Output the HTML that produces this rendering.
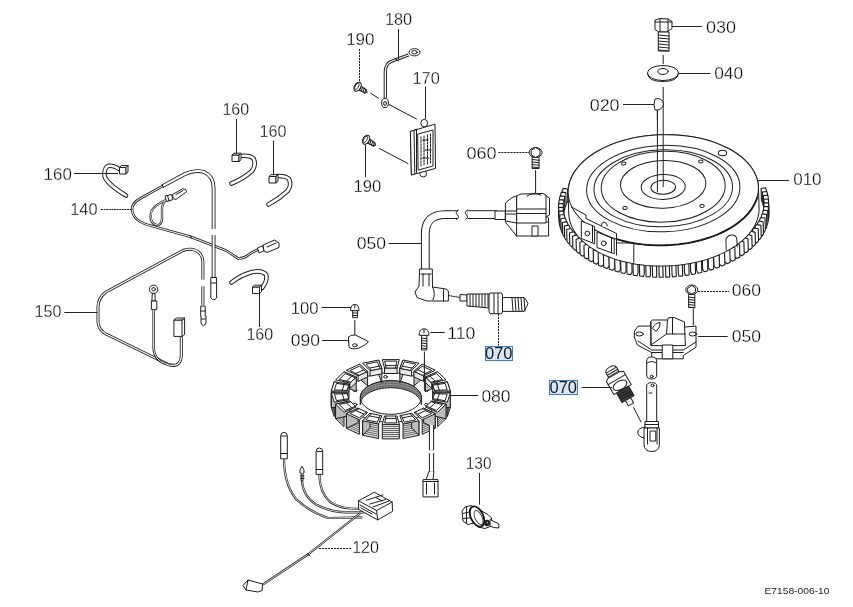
<!DOCTYPE html>
<html><head><meta charset="utf-8">
<style>
html,body{margin:0;padding:0;background:#fff;width:853px;height:607px;overflow:hidden}
svg{display:block}
.t{}
.t{font-family:"Liberation Sans",sans-serif;font-size:16px;fill:#000;stroke:#fff;stroke-width:0.3px}
.l{stroke:#222;stroke-width:1;fill:none}
.d{stroke:#222;stroke-width:1;fill:none;stroke-dasharray:2.2 0.8}
.p{stroke:#1e1e1e;stroke-width:1;stroke-linejoin:round}
.n{stroke:#1e1e1e;stroke-width:1;stroke-linejoin:round;stroke-linecap:round}
</style></head><body>
<svg width="853" height="607" viewBox="0 0 853 607">
<g transform="rotate(-1.6 663.3 190)">
<polygon points="562.2,187.7 563.3,185.6 567.6,186.4 567.6,198.4 566.5,200.4 562.2,199.7" fill="#fff" stroke="#1a1a1a" stroke-width="1.1" stroke-linejoin="round"/>
<polygon points="560.6,191.4 561.4,189.3 565.8,189.9 565.8,201.9 565,204 560.6,203.4" fill="#fff" stroke="#1a1a1a" stroke-width="1.1" stroke-linejoin="round"/>
<polygon points="761.1,191.2 765.5,190.6 766.3,192.8 766.3,204.8 761.9,205.3 761.1,203.2" fill="#fff" stroke="#1a1a1a" stroke-width="1.1" stroke-linejoin="round"/>
<polygon points="559.4,195.2 560,193 564.4,193.5 564.4,205.5 563.8,207.6 559.4,207.2" fill="#fff" stroke="#1a1a1a" stroke-width="1.1" stroke-linejoin="round"/>
<polygon points="762.4,194.8 766.8,194.4 767.3,196.5 767.3,208.5 762.9,208.9 762.4,206.8" fill="#fff" stroke="#1a1a1a" stroke-width="1.1" stroke-linejoin="round"/>
<polygon points="558.6,199 559,196.8 563.5,197.1 563.5,209.1 563.1,211.2 558.6,211" fill="#fff" stroke="#1a1a1a" stroke-width="1.1" stroke-linejoin="round"/>
<polygon points="763.2,198.4 767.7,198.1 768,200.4 768,212.4 763.5,212.5 763.2,210.4" fill="#fff" stroke="#1a1a1a" stroke-width="1.1" stroke-linejoin="round"/>
<polygon points="558.2,202.8 558.4,200.6 562.9,200.8 562.9,212.8 562.7,214.9 558.2,214.8" fill="#fff" stroke="#1a1a1a" stroke-width="1.1" stroke-linejoin="round"/>
<polygon points="763.6,202.1 768.1,202 768.2,204.2 768.2,216.2 763.7,216.2 763.6,214.1" fill="#fff" stroke="#1a1a1a" stroke-width="1.1" stroke-linejoin="round"/>
<polygon points="558.2,204.4 562.7,204.4 562.8,206.5 562.8,218.5 558.3,218.6 558.2,216.4" fill="#fff" stroke="#1a1a1a" stroke-width="1.1" stroke-linejoin="round"/>
<polygon points="763.5,207.8 763.7,205.7 768.2,205.8 768.2,217.8 768,220 763.5,219.8" fill="#fff" stroke="#1a1a1a" stroke-width="1.1" stroke-linejoin="round"/>
<polygon points="558.4,208.2 562.9,208.1 563.2,210.2 563.2,222.2 558.7,222.5 558.4,220.2" fill="#fff" stroke="#1a1a1a" stroke-width="1.1" stroke-linejoin="round"/>
<polygon points="762.9,211.5 763.3,209.4 767.8,209.6 767.8,221.6 767.4,223.8 762.9,223.5" fill="#fff" stroke="#1a1a1a" stroke-width="1.1" stroke-linejoin="round"/>
<polygon points="559.1,212.1 563.5,211.7 564,213.8 564,225.8 559.6,226.2 559.1,224.1" fill="#fff" stroke="#1a1a1a" stroke-width="1.1" stroke-linejoin="round"/>
<polygon points="762,215.1 762.6,213 767,213.4 767,225.4 766.4,227.6 762,227.1" fill="#fff" stroke="#1a1a1a" stroke-width="1.1" stroke-linejoin="round"/>
<polygon points="560.1,215.8 564.5,215.3 565.3,217.4 565.3,229.4 560.9,230 560.1,227.8" fill="#fff" stroke="#1a1a1a" stroke-width="1.1" stroke-linejoin="round"/>
<polygon points="760.6,218.7 761.4,216.6 765.8,217.2 765.8,229.2 765,231.3 760.6,230.7" fill="#fff" stroke="#1a1a1a" stroke-width="1.1" stroke-linejoin="round"/>
<polygon points="561.6,219.6 565.9,218.9 566.9,221 566.9,233 562.6,233.7 561.6,231.6" fill="#fff" stroke="#1a1a1a" stroke-width="1.1" stroke-linejoin="round"/>
<polygon points="758.8,222.2 759.9,220.2 764.2,220.9 764.2,232.9 763.1,235 758.8,234.2" fill="#fff" stroke="#1a1a1a" stroke-width="1.1" stroke-linejoin="round"/>
<polygon points="563.4,223.2 567.7,222.4 568.9,224.4 568.9,236.4 564.7,237.3 563.4,235.2" fill="#fff" stroke="#1a1a1a" stroke-width="1.1" stroke-linejoin="round"/>
<polygon points="756.7,225.7 758,223.7 762.2,224.5 762.2,236.5 760.9,238.6 756.7,237.7" fill="#fff" stroke="#1a1a1a" stroke-width="1.1" stroke-linejoin="round"/>
<polygon points="565.6,226.8 569.8,225.9 571.2,227.8 571.2,239.8 567.1,240.9 565.6,238.8" fill="#fff" stroke="#1a1a1a" stroke-width="1.1" stroke-linejoin="round"/>
<polygon points="754.2,229 755.7,227.1 759.9,228.1 759.9,240.1 758.3,242.1 754.2,241" fill="#fff" stroke="#1a1a1a" stroke-width="1.1" stroke-linejoin="round"/>
<polygon points="568.3,230.3 572.3,229.2 574,231.1 574,243.1 570,244.3 568.3,242.3" fill="#fff" stroke="#1a1a1a" stroke-width="1.1" stroke-linejoin="round"/>
<polygon points="751.4,232.3 753.1,230.4 757.1,231.6 757.1,243.6 755.3,245.5 751.4,244.3" fill="#fff" stroke="#1a1a1a" stroke-width="1.1" stroke-linejoin="round"/>
<polygon points="571.3,233.7 575.2,232.5 577.1,234.3 577.1,246.3 573.2,247.7 571.3,245.7" fill="#fff" stroke="#1a1a1a" stroke-width="1.1" stroke-linejoin="round"/>
<polygon points="748.2,235.4 750.1,233.6 753.9,234.9 753.9,246.9 752,248.8 748.2,247.4" fill="#fff" stroke="#1a1a1a" stroke-width="1.1" stroke-linejoin="round"/>
<polygon points="574.7,237 578.5,235.6 580.5,237.4 580.5,249.4 576.8,250.9 574.7,249" fill="#fff" stroke="#1a1a1a" stroke-width="1.1" stroke-linejoin="round"/>
<polygon points="744.6,238.5 746.7,236.7 750.5,238.2 750.5,250.2 748.3,252 744.6,250.5" fill="#fff" stroke="#1a1a1a" stroke-width="1.1" stroke-linejoin="round"/>
<polygon points="578.4,240.2 582,238.7 584.2,240.3 584.2,252.3 580.7,254 578.4,252.2" fill="#fff" stroke="#1a1a1a" stroke-width="1.1" stroke-linejoin="round"/>
<polygon points="740.8,241.4 743,239.7 746.6,241.3 746.6,253.3 744.2,255 740.8,253.4" fill="#fff" stroke="#1a1a1a" stroke-width="1.1" stroke-linejoin="round"/>
<polygon points="582.4,243.2 585.9,241.5 588.3,243.2 588.3,255.2 584.9,256.9 582.4,255.2" fill="#fff" stroke="#1a1a1a" stroke-width="1.1" stroke-linejoin="round"/>
<polygon points="736.6,244.1 739,242.5 742.4,244.3 742.4,256.3 739.9,257.9 736.6,256.1" fill="#fff" stroke="#1a1a1a" stroke-width="1.1" stroke-linejoin="round"/>
<polygon points="586.8,246.1 590.1,244.3 592.6,245.8 592.6,257.8 589.5,259.7 586.8,258.1" fill="#fff" stroke="#1a1a1a" stroke-width="1.1" stroke-linejoin="round"/>
<polygon points="732.1,246.7 734.8,245.2 738,247.1 738,259.1 735.2,260.6 732.1,258.7" fill="#fff" stroke="#1a1a1a" stroke-width="1.1" stroke-linejoin="round"/>
<polygon points="591.5,248.8 594.5,246.9 597.3,248.3 597.3,260.3 594.3,262.3 591.5,260.8" fill="#fff" stroke="#1a1a1a" stroke-width="1.1" stroke-linejoin="round"/>
<polygon points="727.4,249.1 730.2,247.8 733.2,249.7 733.2,261.7 730.3,263.1 727.4,261.1" fill="#fff" stroke="#1a1a1a" stroke-width="1.1" stroke-linejoin="round"/>
<polygon points="596.4,251.3 599.3,249.3 602.2,250.6 602.2,262.6 599.4,264.7 596.4,263.3" fill="#fff" stroke="#1a1a1a" stroke-width="1.1" stroke-linejoin="round"/>
<polygon points="722.4,251.4 725.4,250.1 728.1,252.2 728.1,264.2 725.1,265.5 722.4,263.4" fill="#fff" stroke="#1a1a1a" stroke-width="1.1" stroke-linejoin="round"/>
<polygon points="601.6,253.6 604.3,251.5 607.3,252.7 607.3,264.7 604.8,266.9 601.6,265.6" fill="#fff" stroke="#1a1a1a" stroke-width="1.1" stroke-linejoin="round"/>
<polygon points="717.2,253.5 720.3,252.3 722.8,254.4 722.8,266.4 719.6,267.7 717.2,265.5" fill="#fff" stroke="#1a1a1a" stroke-width="1.1" stroke-linejoin="round"/>
<polygon points="607.1,255.8 609.5,253.6 612.6,254.7 612.6,266.7 610.4,268.9 607.1,267.8" fill="#fff" stroke="#1a1a1a" stroke-width="1.1" stroke-linejoin="round"/>
<polygon points="711.8,255.3 715,254.3 717.3,256.5 717.3,268.5 714,269.6 711.8,267.3" fill="#fff" stroke="#1a1a1a" stroke-width="1.1" stroke-linejoin="round"/>
<polygon points="612.8,257.7 615,255.4 618.2,256.4 618.2,268.4 616.2,270.8 612.8,269.7" fill="#fff" stroke="#1a1a1a" stroke-width="1.1" stroke-linejoin="round"/>
<polygon points="706.2,257 709.5,256.1 711.5,258.4 711.5,270.4 708.1,271.4 706.2,269" fill="#fff" stroke="#1a1a1a" stroke-width="1.1" stroke-linejoin="round"/>
<polygon points="618.7,259.5 620.6,257.1 623.9,258 623.9,270 622.2,272.4 618.7,271.5" fill="#fff" stroke="#1a1a1a" stroke-width="1.1" stroke-linejoin="round"/>
<polygon points="700.4,258.5 703.8,257.6 705.6,260 705.6,272 702,272.9 700.4,270.5" fill="#fff" stroke="#1a1a1a" stroke-width="1.1" stroke-linejoin="round"/>
<polygon points="624.7,261 626.4,258.5 629.8,259.3 629.8,271.3 628.3,273.7 624.7,273" fill="#fff" stroke="#1a1a1a" stroke-width="1.1" stroke-linejoin="round"/>
<polygon points="694.4,259.7 697.9,259 699.5,261.5 699.5,273.5 695.8,274.2 694.4,271.7" fill="#fff" stroke="#1a1a1a" stroke-width="1.1" stroke-linejoin="round"/>
<polygon points="630.9,262.3 632.3,259.8 635.8,260.4 635.8,272.4 634.6,274.9 630.9,274.3" fill="#fff" stroke="#1a1a1a" stroke-width="1.1" stroke-linejoin="round"/>
<polygon points="688.4,260.7 691.9,260.2 693.2,262.7 693.2,274.7 689.5,275.3 688.4,272.7" fill="#fff" stroke="#1a1a1a" stroke-width="1.1" stroke-linejoin="round"/>
<polygon points="637.3,263.3 638.4,260.8 642,261.3 642,273.3 641,275.8 637.3,275.3" fill="#fff" stroke="#1a1a1a" stroke-width="1.1" stroke-linejoin="round"/>
<polygon points="682.2,261.5 685.8,261.1 686.8,263.6 686.8,275.6 683.1,276.1 682.2,273.5" fill="#fff" stroke="#1a1a1a" stroke-width="1.1" stroke-linejoin="round"/>
<polygon points="643.7,264.1 644.6,261.6 648.2,261.9 648.2,273.9 647.5,276.5 643.7,276.1" fill="#fff" stroke="#1a1a1a" stroke-width="1.1" stroke-linejoin="round"/>
<polygon points="676,262.1 679.6,261.8 680.3,264.4 680.3,276.4 676.6,276.7 676,274.1" fill="#fff" stroke="#1a1a1a" stroke-width="1.1" stroke-linejoin="round"/>
<polygon points="650.2,264.7 650.8,262.1 654.4,262.4 654.4,274.4 654,277 650.2,276.7" fill="#fff" stroke="#1a1a1a" stroke-width="1.1" stroke-linejoin="round"/>
<polygon points="669.7,262.5 673.4,262.3 673.8,264.9 673.8,276.9 670,277.1 669.7,274.5" fill="#fff" stroke="#1a1a1a" stroke-width="1.1" stroke-linejoin="round"/>
<polygon points="656.8,265.1 657.1,262.5 660.7,262.6 660.7,274.6 660.6,277.2 656.8,277.1" fill="#fff" stroke="#1a1a1a" stroke-width="1.1" stroke-linejoin="round"/>
<polygon points="663.4,262.6 667.1,262.5 667.2,265.2 667.2,277.2 663.4,277.2 663.4,274.6" fill="#fff" stroke="#1a1a1a" stroke-width="1.1" stroke-linejoin="round"/>
<polygon class="p" points="568.1,190 568.2,187.1 568.6,184.2 569.3,181.3 570.2,178.5 571.3,175.7 572.8,172.9 574.4,170.2 576.3,167.5 578.5,164.9 580.9,162.3 583.5,159.9 586.3,157.5 589.3,155.2 592.6,153 596,150.9 599.6,148.9 603.4,147 607.3,145.3 611.5,143.6 615.7,142.1 620.1,140.7 624.6,139.5 629.2,138.4 633.9,137.4 638.7,136.6 643.5,135.9 648.4,135.4 653.3,135 658.3,134.8 663.3,134.7 668.3,134.8 673.3,135 678.2,135.4 683.1,135.9 687.9,136.6 692.7,137.4 697.4,138.4 702,139.5 706.5,140.7 710.9,142.1 715.1,143.6 719.3,145.3 723.2,147 727,148.9 730.6,150.9 734,153 737.3,155.2 740.3,157.5 743.1,159.9 745.7,162.3 748.1,164.9 750.3,167.5 752.2,170.2 753.8,172.9 755.3,175.7 756.4,178.5 757.3,181.3 758,184.2 758.4,187.1 758.5,190 758.5,210.8 758.4,213.7 758,216.6 757.3,219.5 756.4,222.3 755.3,225.1 753.8,227.9 752.2,230.6 750.3,233.3 748.1,235.9 745.7,238.5 743.1,240.9 740.3,243.3 737.3,245.6 734,247.8 730.6,249.9 727,251.9 723.2,253.8 719.3,255.5 715.1,257.2 710.9,258.7 706.5,260.1 702,261.3 697.4,262.4 692.7,263.4 687.9,264.2 683.1,264.9 678.2,265.4 673.3,265.8 668.3,266 663.3,266.1 658.3,266 653.3,265.8 648.4,265.4 643.5,264.9 638.7,264.2 633.9,263.4 629.2,262.4 624.6,261.3 620.1,260.1 615.7,258.7 611.5,257.2 607.3,255.5 603.4,253.8 599.6,251.9 596,249.9 592.6,247.8 589.3,245.6 586.3,243.3 583.5,240.9 580.9,238.5 578.5,235.9 576.3,233.3 574.4,230.6 572.8,227.9 571.3,225.1 570.2,222.3 569.3,219.5 568.6,216.6 568.2,213.7 568.1,210.8"  fill="#fff"/>
<ellipse class="p" cx="663.3" cy="190" rx="95.2" ry="55.3" stroke-width="1.1" fill="#fff"/>
<path d="M757.1,199.6 756.2,202.2 755,204.8 753.7,207.3 752.2,209.8 750.4,212.3 748.5,214.7 746.4,217 744,219.3 741.5,221.5 738.8,223.7 736,225.7 732.9,227.7 729.7,229.6 726.4,231.4 722.9,233.1 719.3,234.7 715.5,236.2 711.6,237.6 707.6,238.9 703.5,240.1 699.3,241.2 695.1,242.1 690.7,243 686.3,243.7 681.9,244.2 677.4,244.7 672.8,245 668.3,245.2 663.7,245.3 659.1,245.2 654.6,245.1 650.1,244.8 645.5,244.3 641.1,243.8 636.7,243.1 632.3,242.3 628,241.4 623.8,240.3 619.7,239.2 615.7,237.9" fill="none" stroke="#1a1a1a" stroke-width="1.8"/>
<ellipse class="n" cx="663.3" cy="188.6" rx="76.7" ry="43.2"  fill="none"/>
<ellipse class="n" cx="663.3" cy="188.3" rx="69.3" ry="38.5"  fill="none"/>
<ellipse class="n" cx="663.3" cy="186.7" rx="62" ry="35.4" stroke-width="1.9" fill="none"/>
<ellipse class="n" cx="663.3" cy="184.3" rx="42.7" ry="23.9" stroke-width="1.1" fill="none"/>
<ellipse class="n" cx="663.3" cy="186.9" rx="22" ry="12.5" stroke-width="1.4" fill="none"/>
<ellipse class="n" cx="663.3" cy="187.3" rx="12.3" ry="7" stroke-width="1.1" fill="none"/>
<ellipse class="n" cx="624.5" cy="162.5" rx="2.2" ry="1.5" stroke-width="1.2" fill="none"/>
<ellipse class="n" cx="701.6" cy="162.5" rx="2.2" ry="1.5" stroke-width="1.2" fill="none"/>
<ellipse class="n" cx="624.5" cy="207" rx="2.2" ry="1.5" stroke-width="1.2" fill="none"/>
<ellipse class="n" cx="701.6" cy="207" rx="2.2" ry="1.5" stroke-width="1.2" fill="none"/>
<ellipse class="n" cx="723.5" cy="154.6" rx="4.2" ry="2.8"  fill="none"/>
<path class="n" d="M724.5,252 V241 Q727,236.5 731,237 Q735.5,237.5 735.5,242 V249"  fill="none"/>
</g>
<path class="n" d="M571.5,207 L586,215 V218.5 L616.5,233.5 V243 L633.8,243 V262.3" stroke-width="0.9" fill="none"/>
<polygon class="p" points="581.3,221 594.6,226.5 594.6,243.8 581.3,238.5" stroke-width="1.6" fill="#fff"/>
<polygon class="p" points="597,232 614.2,239 614.2,253.7 597,247.5" stroke-width="1.6" fill="#fff"/>
<path class="n" d="M592.5,226 V242 M611.5,238.5 V252.5 M616.5,234 V255" stroke-width="0.9" fill="none"/>
<ellipse class="n" cx="587.3" cy="233.5" rx="2.4" ry="2.4" stroke-width="1.6" fill="none"/>
<ellipse class="n" cx="603.8" cy="243.3" rx="2.4" ry="2.4" stroke-width="1.6" fill="none"/>
<path class="p" d="M601.5,226.5 Q601,222.5 604,222 Q607.5,222.5 607.3,226.5" stroke-width="0.9" fill="#fff"/>
<path class="l" d="M663.2,55 V64 M663.2,87 V187 M657.4,110 V192"  fill="none"/>
<path class="p" d="M655,20 L660,18.5 L668,19 L672,21.5 V28.5 L667,32 L659,32 L655,29.5 Z"  fill="#fff"/>
<path class="n" d="M660,18.5 V31.5 M668,19 V32 M655,22 L672,22" stroke-width="0.8" fill="none"/>
<polygon class="p" points="658.3,32 669,32 669,51 658.3,51"  fill="#fff"/>
<path class="n" d="M658.3,35 L669,36" stroke-width="0.8" fill="none"/>
<path class="n" d="M658.3,38 L669,39" stroke-width="0.8" fill="none"/>
<path class="n" d="M658.3,41 L669,42" stroke-width="0.8" fill="none"/>
<path class="n" d="M658.3,44 L669,45" stroke-width="0.8" fill="none"/>
<path class="n" d="M658.3,47 L669,48" stroke-width="0.8" fill="none"/>
<path class="n" d="M658.3,50 L669,51" stroke-width="0.8" fill="none"/>
<ellipse class="p" cx="663" cy="73" rx="15.5" ry="7.5" stroke-width="1.2" fill="#fff"/>
<path class="n" d="M647.6,74 Q648,81.5 663,81.5 Q678,81.5 678.3,74"  fill="none"/>
<ellipse class="n" cx="663" cy="71.5" rx="5.3" ry="3"  fill="none"/>
<path class="p" d="M655,99 Q662,97 663.5,104 Q662,111 655,110 Q653,104.5 655,99 Z"  fill="#fff"/>
<path class="n" d="M657.4,110 V120"  fill="none"/>
<polygon class="p" points="435.8,397.5 435.6,400.1 434.8,402.6 433.6,405.1 431.9,407.6 429.8,409.9 427.2,412 424.2,414.1 420.9,415.9 417.3,417.5 413.3,418.9 409.1,420.1 404.7,421 400.2,421.7 395.5,422.1 390.8,422.2 386.1,422.1 381.4,421.7 376.9,421 372.5,420.1 368.3,418.9 364.3,417.5 360.7,415.9 357.4,414.1 354.4,412 351.8,409.9 349.7,407.6 348,405.1 346.8,402.6 346,400.1 345.8,397.5 346,394.9 346.8,392.4 348,389.9 349.7,387.4 351.8,385.1 354.4,383 357.4,380.9 360.7,379.1 364.3,377.5 368.3,376.1 372.5,374.9 376.9,374 381.4,373.3 386.1,372.9 390.8,372.8 395.5,372.9 400.2,373.3 404.7,374 409.1,374.9 413.3,376.1 417.3,377.5 420.9,379.1 424.2,380.9 427.2,383 429.8,385.1 431.9,387.4 433.6,389.9 434.8,392.4 435.6,394.9 435.8,397.5"  fill="#fff"/>
<polygon class="p" points="421.3,397.5 421.1,399.3 420.6,401 419.8,402.7 418.7,404.3 417.2,405.9 415.5,407.4 413.5,408.7 411.2,410 408.7,411.1 406.1,412 403.2,412.8 400.2,413.5 397.1,413.9 394,414.2 390.8,414.3 387.6,414.2 384.5,413.9 381.4,413.5 378.4,412.8 375.6,412 372.9,411.1 370.4,410 368.1,408.7 366.1,407.4 364.4,405.9 362.9,404.3 361.8,402.7 361,401 360.5,399.3 360.3,397.5 360.5,395.7 361,394 361.8,392.3 362.9,390.7 364.4,389.1 366.1,387.6 368.1,386.3 370.4,385 372.9,383.9 375.6,383 378.4,382.2 381.4,381.5 384.5,381.1 387.6,380.8 390.8,380.7 394,380.8 397.1,381.1 400.2,381.5 403.2,382.2 406.1,383 408.7,383.9 411.2,385 413.5,386.3 415.5,387.6 417.2,389.1 418.7,390.7 419.8,392.3 420.6,394 421.1,395.7 421.3,397.5" fill="#fff"/>
<polygon class="n" points="360.3,397.5 360.5,395.7 361,394 361.8,392.3 362.9,390.7 364.4,389.1 366.1,387.6 368.1,386.3 370.4,385 372.9,383.9 375.6,383 378.4,382.2 381.4,381.5 384.5,381.1 387.6,380.8 390.8,380.7 394,380.8 397.1,381.1 400.2,381.5 403.2,382.2 406.1,383 408.7,383.9 411.2,385 413.5,386.3 415.5,387.6 417.2,389.1 418.7,390.7 419.8,392.3 420.6,394 421.1,395.7 421.3,397.5 421.3,404.5 421.1,402.7 420.6,401 419.8,399.3 418.7,397.7 417.2,396.1 415.5,394.6 413.5,393.3 411.2,392 408.7,390.9 406.1,390 403.2,389.2 400.2,388.5 397.1,388.1 394,387.8 390.8,387.7 387.6,387.8 384.5,388.1 381.4,388.5 378.4,389.2 375.6,390 372.9,390.9 370.4,392 368.1,393.3 366.1,394.6 364.4,396.1 362.9,397.7 361.8,399.3 361,401 360.5,402.7 360.3,404.5" fill="#8c8c8c" stroke="#222"/>
<path d="M361.5,395.4 362.5,393.7 363.9,392.1 365.5,390.6 367.4,389.2 369.6,387.9 372,386.8 374.6,385.8 377.4,384.9 380.4,384.2 383.4,383.7 386.6,383.4 389.7,383.2 392.9,383.3 396.1,383.5 399.2,383.9 402.2,384.4 405.1,385.2 407.9,386.1 410.4,387.1 412.7,388.3 414.8,389.7 416.7,391.1 418.2,392.6 419.5,394.3" fill="none" stroke="#444" stroke-width="0.8" stroke-dasharray="2 1"/>
<path d="M361.5,397.9 362.5,396.2 363.9,394.6 365.5,393.1 367.4,391.7 369.6,390.4 372,389.3 374.6,388.3 377.4,387.4 380.4,386.7 383.4,386.2 386.6,385.9 389.7,385.7 392.9,385.8 396.1,386 399.2,386.4 402.2,386.9 405.1,387.7 407.9,388.6 410.4,389.6 412.7,390.8 414.8,392.2 416.7,393.6 418.2,395.1 419.5,396.8" fill="none" stroke="#444" stroke-width="0.8" stroke-dasharray="2 1"/>
<ellipse class="n" cx="355.1" cy="390.4" rx="1.8" ry="1.3" stroke-width="1.1" fill="none"/>
<ellipse class="n" cx="355.1" cy="404.6" rx="1.8" ry="1.3" stroke-width="1.1" fill="none"/>
<ellipse class="n" cx="426.5" cy="390.4" rx="1.8" ry="1.3" stroke-width="1.1" fill="none"/>
<ellipse class="n" cx="426.5" cy="404.6" rx="1.8" ry="1.3" stroke-width="1.1" fill="none"/>
<ellipse class="n" cx="385.5" cy="376.8" rx="1.8" ry="1.3" stroke-width="1.1" fill="none"/>
<polygon class="p" points="384.5,368 397.1,368 397.1,373.5 384.5,373.5" fill="#e8e8e8"/>
<polygon class="p" points="384.5,368 382.3,359.6 399.3,359.6 397.1,368"  fill="#fff"/>
<polygon class="n" points="385.5,365.2 384.7,361.1 396.9,361.1 396.1,365.2" stroke-width="0.8" fill="none"/>
<path class="n" d="M385.5,365.2 L386,367.9 M395.6,367.9 L396.1,365.2" stroke-width="0.8" fill="none"/>
<polygon class="p" points="381.8,368.3 378.6,360 378.6,374.5 381.8,382.8" fill="#bdbdbd"/>
<polygon class="p" points="370,370.7 381.8,368.3 381.8,373.8 370,376.2" fill="#e8e8e8"/>
<polygon class="p" points="370,370.7 362.7,363.2 378.6,360 381.8,368.3"  fill="#fff"/>
<polygon class="n" points="369.2,367.8 365.9,364.1 377.3,361.8 379.1,365.8" stroke-width="0.8" fill="none"/>
<path class="n" d="M369.2,367.8 L371.4,370.3 M380.3,368.5 L379.1,365.8" stroke-width="0.8" fill="none"/>
<polygon class="p" points="399.8,368.3 403,360 403,374.5 399.8,382.8" fill="#bdbdbd"/>
<polygon class="p" points="399.8,368.3 411.6,370.7 411.6,376.2 399.8,373.8" fill="#e8e8e8"/>
<polygon class="p" points="399.8,368.3 403,360 418.9,363.2 411.6,370.7"  fill="#fff"/>
<polygon class="n" points="402.5,365.8 404.3,361.8 415.7,364.1 412.4,367.8" stroke-width="0.8" fill="none"/>
<path class="n" d="M402.5,365.8 L401.3,368.5 M410.2,370.3 L412.4,367.8" stroke-width="0.8" fill="none"/>
<polygon class="p" points="414,371.4 422.2,364.2 422.2,378.7 414,385.9" fill="#bdbdbd"/>
<polygon class="p" points="414,371.4 423.6,375.9 423.6,381.4 414,376.9" fill="#e8e8e8"/>
<polygon class="p" points="414,371.4 422.2,364.2 435.2,370.2 423.6,375.9"  fill="#fff"/>
<polygon class="n" points="418.1,369.6 422.2,366.2 431.6,370.5 426.2,373.3" stroke-width="0.8" fill="none"/>
<path class="n" d="M418.1,369.6 L415.3,371.9 M422.6,375.3 L426.2,373.3" stroke-width="0.8" fill="none"/>
<polygon class="p" points="367.6,371.4 359.4,364.2 359.4,378.7 367.6,385.9" fill="#bdbdbd"/>
<polygon class="p" points="358,375.9 367.6,371.4 367.6,376.9 358,381.4" fill="#e8e8e8"/>
<polygon class="p" points="358,375.9 346.4,370.2 359.4,364.2 367.6,371.4"  fill="#fff"/>
<polygon class="n" points="355.4,373.3 350,370.5 359.4,366.2 363.5,369.6" stroke-width="0.8" fill="none"/>
<path class="n" d="M355.4,373.3 L359,375.3 M366.3,371.9 L363.5,369.6" stroke-width="0.8" fill="none"/>
<polygon class="p" points="425.4,377 437.6,371.8 437.6,386.3 425.4,391.5" fill="#bdbdbd"/>
<polygon class="p" points="425.4,377 431.7,383 431.7,388.5 425.4,382.5" fill="#e8e8e8"/>
<polygon class="p" points="425.4,377 437.6,371.8 446,379.8 431.7,383"  fill="#fff"/>
<polygon class="n" points="430.3,376.1 436.4,373.6 442.5,379.5 435.6,381.1" stroke-width="0.8" fill="none"/>
<path class="n" d="M430.3,376.1 L426.3,377.7 M431.1,382.2 L435.6,381.1" stroke-width="0.8" fill="none"/>
<polygon class="p" points="356.2,377 344,371.8 344,386.3 356.2,391.5" fill="#bdbdbd"/>
<polygon class="p" points="349.9,383 356.2,377 356.2,382.5 349.9,388.5" fill="#e8e8e8"/>
<polygon class="p" points="349.9,383 335.6,379.8 344,371.8 356.2,377"  fill="#fff"/>
<polygon class="n" points="346,381.1 339.1,379.5 345.2,373.6 351.3,376.1" stroke-width="0.8" fill="none"/>
<path class="n" d="M346,381.1 L350.5,382.2 M355.3,377.7 L351.3,376.1" stroke-width="0.8" fill="none"/>
<polygon class="p" points="331.3,391 334.3,381.8 334.3,396.3 331.3,405.5" fill="#e4e4e4" stroke-width="1.1"/>
<line x1="331.3" y1="393" x2="334.3" y2="383.8" stroke="#444" stroke-width="0.8"/>
<line x1="331.3" y1="395" x2="334.3" y2="385.8" stroke="#444" stroke-width="0.8"/>
<line x1="331.3" y1="397.1" x2="334.3" y2="387.9" stroke="#444" stroke-width="0.8"/>
<line x1="331.3" y1="399.1" x2="334.3" y2="389.9" stroke="#444" stroke-width="0.8"/>
<line x1="331.3" y1="401.1" x2="334.3" y2="391.9" stroke="#444" stroke-width="0.8"/>
<line x1="331.3" y1="403.2" x2="334.3" y2="394" stroke="#444" stroke-width="0.8"/>
<polygon class="p" points="349,384.4 334.3,381.8 334.3,396.3 349,398.9" fill="#bdbdbd"/>
<polygon class="p" points="346.8,391.2 349,384.4 349,389.9 346.8,396.7" fill="#e8e8e8"/>
<polygon class="p" points="346.8,391.2 331.3,391 334.3,381.8 349,384.4"  fill="#fff"/>
<polygon class="n" points="341.9,390.2 334.4,389.9 336.5,383.3 343.7,384.5" stroke-width="0.8" fill="none"/>
<path class="n" d="M341.9,390.2 L346.9,390.4 M348.5,385.2 L343.7,384.5" stroke-width="0.8" fill="none"/>
<polygon class="p" points="447.3,381.8 450.3,391 450.3,405.5 447.3,396.3" fill="#e4e4e4" stroke-width="1.1"/>
<line x1="447.3" y1="383.8" x2="450.3" y2="393" stroke="#444" stroke-width="0.8"/>
<line x1="447.3" y1="385.8" x2="450.3" y2="395" stroke="#444" stroke-width="0.8"/>
<line x1="447.3" y1="387.9" x2="450.3" y2="397.1" stroke="#444" stroke-width="0.8"/>
<line x1="447.3" y1="389.9" x2="450.3" y2="399.1" stroke="#444" stroke-width="0.8"/>
<line x1="447.3" y1="391.9" x2="450.3" y2="401.1" stroke="#444" stroke-width="0.8"/>
<line x1="447.3" y1="394" x2="450.3" y2="403.2" stroke="#444" stroke-width="0.8"/>
<polygon class="p" points="432.6,384.4 447.3,381.8 447.3,396.3 432.6,398.9" fill="#bdbdbd"/>
<polygon class="p" points="432.6,384.4 434.8,391.2 434.8,396.7 432.6,389.9" fill="#e8e8e8"/>
<polygon class="p" points="432.6,384.4 447.3,381.8 450.3,391 434.8,391.2"  fill="#fff"/>
<polygon class="n" points="437.9,384.5 445.1,383.3 447.2,389.9 439.7,390.2" stroke-width="0.8" fill="none"/>
<path class="n" d="M437.9,384.5 L433.1,385.2 M434.7,390.4 L439.7,390.2" stroke-width="0.8" fill="none"/>
<polygon class="p" points="334.3,402.2 331.3,393 331.3,407.5 334.3,416.7" fill="#e4e4e4" stroke-width="1.1"/>
<line x1="334.3" y1="404.3" x2="331.3" y2="395.1" stroke="#444" stroke-width="0.8"/>
<line x1="334.3" y1="406.3" x2="331.3" y2="397.1" stroke="#444" stroke-width="0.8"/>
<line x1="334.3" y1="408.3" x2="331.3" y2="399.1" stroke="#444" stroke-width="0.8"/>
<line x1="334.3" y1="410.3" x2="331.3" y2="401.1" stroke="#444" stroke-width="0.8"/>
<line x1="334.3" y1="412.4" x2="331.3" y2="403.2" stroke="#444" stroke-width="0.8"/>
<line x1="334.3" y1="414.4" x2="331.3" y2="405.2" stroke="#444" stroke-width="0.8"/>
<polygon class="p" points="346.8,392.8 331.3,393 331.3,407.5 346.8,407.3" fill="#bdbdbd"/>
<polygon class="p" points="349,399.6 334.3,402.2 331.3,393 346.8,392.8"  fill="#fff"/>
<polygon class="n" points="343.7,399.5 336.5,400.7 334.4,394.1 341.9,393.8" stroke-width="0.8" fill="none"/>
<path class="n" d="M343.7,399.5 L348.5,398.8 M346.9,393.6 L341.9,393.8" stroke-width="0.8" fill="none"/>
<polygon class="p" points="450.3,393 447.3,402.2 447.3,416.7 450.3,407.5" fill="#e4e4e4" stroke-width="1.1"/>
<line x1="450.3" y1="395.1" x2="447.3" y2="404.3" stroke="#444" stroke-width="0.8"/>
<line x1="450.3" y1="397.1" x2="447.3" y2="406.3" stroke="#444" stroke-width="0.8"/>
<line x1="450.3" y1="399.1" x2="447.3" y2="408.3" stroke="#444" stroke-width="0.8"/>
<line x1="450.3" y1="401.1" x2="447.3" y2="410.3" stroke="#444" stroke-width="0.8"/>
<line x1="450.3" y1="403.2" x2="447.3" y2="412.4" stroke="#444" stroke-width="0.8"/>
<line x1="450.3" y1="405.2" x2="447.3" y2="414.4" stroke="#444" stroke-width="0.8"/>
<polygon class="p" points="434.8,392.8 450.3,393 450.3,407.5 434.8,407.3" fill="#bdbdbd"/>
<polygon class="p" points="434.8,392.8 450.3,393 447.3,402.2 432.6,399.6"  fill="#fff"/>
<polygon class="n" points="439.7,393.8 447.2,394.1 445.1,400.7 437.9,399.5" stroke-width="0.8" fill="none"/>
<path class="n" d="M439.7,393.8 L434.7,393.6 M433.1,398.8 L437.9,399.5" stroke-width="0.8" fill="none"/>
<polygon class="p" points="446,404.2 437.6,412.2 437.6,426.7 446,418.7" fill="#e4e4e4" stroke-width="1.1"/>
<line x1="446" y1="406.2" x2="437.6" y2="414.3" stroke="#444" stroke-width="0.8"/>
<line x1="446" y1="408.2" x2="437.6" y2="416.3" stroke="#444" stroke-width="0.8"/>
<line x1="446" y1="410.2" x2="437.6" y2="418.3" stroke="#444" stroke-width="0.8"/>
<line x1="446" y1="412.3" x2="437.6" y2="420.4" stroke="#444" stroke-width="0.8"/>
<line x1="446" y1="414.3" x2="437.6" y2="422.4" stroke="#444" stroke-width="0.8"/>
<line x1="446" y1="416.3" x2="437.6" y2="424.4" stroke="#444" stroke-width="0.8"/>
<polygon class="p" points="431.7,401 446,404.2 446,418.7 431.7,415.5" fill="#bdbdbd"/>
<polygon class="p" points="431.7,401 446,404.2 437.6,412.2 425.4,407"  fill="#fff"/>
<polygon class="n" points="435.6,402.9 442.5,404.5 436.4,410.4 430.3,407.9" stroke-width="0.8" fill="none"/>
<path class="n" d="M435.6,402.9 L431.1,401.8 M426.3,406.3 L430.3,407.9" stroke-width="0.8" fill="none"/>
<polygon class="p" points="344,412.2 335.6,404.2 335.6,418.7 344,426.7" fill="#e4e4e4" stroke-width="1.1"/>
<line x1="344" y1="414.3" x2="335.6" y2="406.2" stroke="#444" stroke-width="0.8"/>
<line x1="344" y1="416.3" x2="335.6" y2="408.2" stroke="#444" stroke-width="0.8"/>
<line x1="344" y1="418.3" x2="335.6" y2="410.2" stroke="#444" stroke-width="0.8"/>
<line x1="344" y1="420.4" x2="335.6" y2="412.3" stroke="#444" stroke-width="0.8"/>
<line x1="344" y1="422.4" x2="335.6" y2="414.3" stroke="#444" stroke-width="0.8"/>
<line x1="344" y1="424.4" x2="335.6" y2="416.3" stroke="#444" stroke-width="0.8"/>
<polygon class="p" points="349.9,401 335.6,404.2 335.6,418.7 349.9,415.5" fill="#bdbdbd"/>
<polygon class="p" points="356.2,407 344,412.2 335.6,404.2 349.9,401"  fill="#fff"/>
<polygon class="n" points="351.3,407.9 345.2,410.4 339.1,404.5 346,402.9" stroke-width="0.8" fill="none"/>
<path class="n" d="M351.3,407.9 L355.3,406.3 M350.5,401.8 L346,402.9" stroke-width="0.8" fill="none"/>
<polygon class="p" points="435.2,413.8 422.2,419.8 422.2,434.3 435.2,428.3" fill="#e4e4e4" stroke-width="1.1"/>
<line x1="435.2" y1="415.8" x2="422.2" y2="421.8" stroke="#444" stroke-width="0.8"/>
<line x1="435.2" y1="417.9" x2="422.2" y2="423.9" stroke="#444" stroke-width="0.8"/>
<line x1="435.2" y1="419.9" x2="422.2" y2="425.9" stroke="#444" stroke-width="0.8"/>
<line x1="435.2" y1="421.9" x2="422.2" y2="427.9" stroke="#444" stroke-width="0.8"/>
<line x1="435.2" y1="424" x2="422.2" y2="430" stroke="#444" stroke-width="0.8"/>
<line x1="435.2" y1="426" x2="422.2" y2="432" stroke="#444" stroke-width="0.8"/>
<polygon class="p" points="423.6,408.1 435.2,413.8 435.2,428.3 423.6,422.6" fill="#bdbdbd"/>
<polygon class="p" points="423.6,408.1 435.2,413.8 422.2,419.8 414,412.6"  fill="#fff"/>
<polygon class="n" points="426.2,410.7 431.6,413.5 422.2,417.8 418.1,414.4" stroke-width="0.8" fill="none"/>
<path class="n" d="M426.2,410.7 L422.6,408.7 M415.3,412.1 L418.1,414.4" stroke-width="0.8" fill="none"/>
<polygon class="p" points="359.4,419.8 346.4,413.8 346.4,428.3 359.4,434.3" fill="#e4e4e4" stroke-width="1.1"/>
<line x1="359.4" y1="421.8" x2="346.4" y2="415.8" stroke="#444" stroke-width="0.8"/>
<line x1="359.4" y1="423.9" x2="346.4" y2="417.9" stroke="#444" stroke-width="0.8"/>
<line x1="359.4" y1="425.9" x2="346.4" y2="419.9" stroke="#444" stroke-width="0.8"/>
<line x1="359.4" y1="427.9" x2="346.4" y2="421.9" stroke="#444" stroke-width="0.8"/>
<line x1="359.4" y1="430" x2="346.4" y2="424" stroke="#444" stroke-width="0.8"/>
<line x1="359.4" y1="432" x2="346.4" y2="426" stroke="#444" stroke-width="0.8"/>
<polygon class="p" points="358,408.1 346.4,413.8 346.4,428.3 358,422.6" fill="#bdbdbd"/>
<polygon class="p" points="367.6,412.6 359.4,419.8 346.4,413.8 358,408.1"  fill="#fff"/>
<polygon class="n" points="363.5,414.4 359.4,417.8 350,413.5 355.4,410.7" stroke-width="0.8" fill="none"/>
<path class="n" d="M363.5,414.4 L366.3,412.1 M359,408.7 L355.4,410.7" stroke-width="0.8" fill="none"/>
<polygon class="p" points="418.9,420.8 403,424 403,438.5 418.9,435.3" fill="#e4e4e4" stroke-width="1.1"/>
<line x1="418.9" y1="422.9" x2="403" y2="426.1" stroke="#444" stroke-width="0.8"/>
<line x1="418.9" y1="424.9" x2="403" y2="428.1" stroke="#444" stroke-width="0.8"/>
<line x1="418.9" y1="426.9" x2="403" y2="430.1" stroke="#444" stroke-width="0.8"/>
<line x1="418.9" y1="429" x2="403" y2="432.2" stroke="#444" stroke-width="0.8"/>
<line x1="418.9" y1="431" x2="403" y2="434.2" stroke="#444" stroke-width="0.8"/>
<line x1="418.9" y1="433" x2="403" y2="436.2" stroke="#444" stroke-width="0.8"/>
<polygon class="p" points="411.6,413.3 418.9,420.8 418.9,435.3 411.6,427.8" fill="#bdbdbd"/>
<polygon class="p" points="411.6,413.3 418.9,420.8 403,424 399.8,415.7"  fill="#fff"/>
<polygon class="n" points="412.4,416.2 415.7,419.9 404.3,422.2 402.5,418.2" stroke-width="0.8" fill="none"/>
<path class="n" d="M412.4,416.2 L410.2,413.7 M401.3,415.5 L402.5,418.2" stroke-width="0.8" fill="none"/>
<polygon class="p" points="378.6,424 362.7,420.8 362.7,435.3 378.6,438.5" fill="#e4e4e4" stroke-width="1.1"/>
<line x1="378.6" y1="426.1" x2="362.7" y2="422.9" stroke="#444" stroke-width="0.8"/>
<line x1="378.6" y1="428.1" x2="362.7" y2="424.9" stroke="#444" stroke-width="0.8"/>
<line x1="378.6" y1="430.1" x2="362.7" y2="426.9" stroke="#444" stroke-width="0.8"/>
<line x1="378.6" y1="432.2" x2="362.7" y2="429" stroke="#444" stroke-width="0.8"/>
<line x1="378.6" y1="434.2" x2="362.7" y2="431" stroke="#444" stroke-width="0.8"/>
<line x1="378.6" y1="436.2" x2="362.7" y2="433" stroke="#444" stroke-width="0.8"/>
<polygon class="p" points="370,413.3 362.7,420.8 362.7,435.3 370,427.8" fill="#bdbdbd"/>
<polygon class="p" points="381.8,415.7 378.6,424 362.7,420.8 370,413.3"  fill="#fff"/>
<polygon class="n" points="379.1,418.2 377.3,422.2 365.9,419.9 369.2,416.2" stroke-width="0.8" fill="none"/>
<path class="n" d="M379.1,418.2 L380.3,415.5 M371.4,413.7 L369.2,416.2" stroke-width="0.8" fill="none"/>
<polygon class="p" points="399.3,424.4 382.3,424.4 382.3,438.9 399.3,438.9" fill="#e4e4e4" stroke-width="1.1"/>
<line x1="399.3" y1="426.4" x2="382.3" y2="426.4" stroke="#444" stroke-width="0.8"/>
<line x1="399.3" y1="428.5" x2="382.3" y2="428.5" stroke="#444" stroke-width="0.8"/>
<line x1="399.3" y1="430.5" x2="382.3" y2="430.5" stroke="#444" stroke-width="0.8"/>
<line x1="399.3" y1="432.5" x2="382.3" y2="432.5" stroke="#444" stroke-width="0.8"/>
<line x1="399.3" y1="434.5" x2="382.3" y2="434.5" stroke="#444" stroke-width="0.8"/>
<line x1="399.3" y1="436.6" x2="382.3" y2="436.6" stroke="#444" stroke-width="0.8"/>
<polygon class="p" points="397.1,416 399.3,424.4 382.3,424.4 384.5,416"  fill="#fff"/>
<polygon class="n" points="396.1,418.8 396.9,422.9 384.7,422.9 385.5,418.8" stroke-width="0.8" fill="none"/>
<path class="n" d="M396.1,418.8 L395.6,416.1 M386,416.1 L385.5,418.8" stroke-width="0.8" fill="none"/>
<path class="n" d="M535.6,170.5 V193.5"  fill="none"/>
<polygon class="p" points="532.2,157 539,157 539,168.5 532.2,168.5"  fill="#fff"/>
<path class="n" d="M532.2,159.5 L539,160.3" stroke-width="0.7" fill="none"/>
<path class="n" d="M532.2,162 L539,162.8" stroke-width="0.7" fill="none"/>
<path class="n" d="M532.2,164.5 L539,165.3" stroke-width="0.7" fill="none"/>
<path class="n" d="M532.2,167 L539,167.8" stroke-width="0.7" fill="none"/>
<ellipse class="p" cx="535.6" cy="152.5" rx="6.5" ry="5" stroke-width="1.2" fill="#fff"/>
<path class="n" d="M531.5,150 L535.6,147.5 L540,150 V155 L535.6,157.5 L531.5,155 Z" stroke-width="0.8" fill="none"/>
<path d="M497,214.6 H467.5" fill="none" stroke="#1e1e1e" stroke-width="8.8" stroke-linecap="butt" stroke-linejoin="round"/>
<path d="M497,214.6 H467.5" fill="none" stroke="#fff" stroke-width="6.8" stroke-linecap="butt" stroke-linejoin="round"/>
<path d="M458,214.6 H445 Q425.3,214.6 425.3,234 V270" fill="none" stroke="#1e1e1e" stroke-width="8.8" stroke-linecap="butt" stroke-linejoin="round"/>
<path d="M458,214.6 H445 Q425.3,214.6 425.3,234 V270" fill="none" stroke="#fff" stroke-width="6.8" stroke-linecap="butt" stroke-linejoin="round"/>
<path class="n" d="M467.5,210 Q463.5,212.5 466.5,215 Q469,217.5 465.5,219.5" stroke-width="1" fill="none"/>
<path class="n" d="M458.5,210 Q454.5,212.5 457.5,215 Q460,217.5 456.5,219.5" stroke-width="1" fill="none"/>
<polygon class="p" points="495,211 505.4,211 505.4,219.5 495,219.5"  fill="#fff"/>
<polygon class="p" points="505.4,216 546,216 548.6,218 548.6,236 516.6,236 505.4,222"  fill="#fff"/>
<path class="n" d="M516.6,222 L548.6,222 M516.6,222 V236" stroke-width="0.8" fill="none"/>
<polygon class="p" points="516.6,196 521,194 543,193.5 546,195 546,223 516.6,223"  fill="#fff"/>
<path class="n" d="M546,196 L549.5,198 V215 L546,217"  fill="none"/>
<polygon class="p" points="505.4,203 512,197.5 516.6,196 516.6,223 505.4,221"  fill="#fff"/>
<path class="n" d="M505.4,211 H516.6 M505.4,214 H516.6" stroke-width="0.7" fill="none"/>
<path class="n" d="M517,209 H546 M517,213.5 H546" stroke-width="1.1" stroke-dasharray="2 0.6" fill="none"/>
<path class="n" d="M527,196 Q533,192 541,195" stroke-width="1.2" fill="none"/>
<polygon class="p" points="532,226 538,226 538,236 532,236" stroke-width="0.8" fill="#fff"/>
<polygon class="p" points="419.6,269 432.3,269 432.5,287 446,289 448.4,291 448.4,301 427,301 417,297.5 415,292 419,286"  fill="#fff"/>
<path class="n" d="M421,274 H431 M423,274 V286 M429,274 V286 M432.5,287 Q436,293 433,300" stroke-width="0.8" fill="none"/>
<path class="n" d="M443.5,289.5 V301" stroke-width="0.8" fill="none"/>
<path class="n" d="M448.5,295.5 L460,297.5" stroke-dasharray="1.5 1" fill="none"/>
<polygon class="p" points="460,294.5 467,295 467,301 460,301"  fill="#fff"/>
<polygon class="p" points="467,294 490,294 490,308 467,306"  fill="#fff"/>
<path class="n" d="M470,294.3 V306.5" stroke-width="0.8" fill="none"/>
<path class="n" d="M473,294.3 V306.5" stroke-width="0.8" fill="none"/>
<path class="n" d="M476,294.3 V306.5" stroke-width="0.8" fill="none"/>
<path class="n" d="M479,294.3 V306.5" stroke-width="0.8" fill="none"/>
<path class="n" d="M482,294.3 V306.5" stroke-width="0.8" fill="none"/>
<path class="n" d="M485,294.3 V306.5" stroke-width="0.8" fill="none"/>
<path class="n" d="M488,294.3 V306.5" stroke-width="0.8" fill="none"/>
<polygon class="p" points="490,293 501.4,293 502.5,295 502.5,312 501.4,313.7 490,313.7 489,311 489,295" stroke-width="1.1" fill="#fff"/>
<path class="n" d="M494,293.5 V313.5 M498,293.5 V313.5" stroke-width="0.8" fill="none"/>
<polygon class="p" points="502.5,297.6 524,297.6 526,300 528,303.5 526,308 524,311.4 502.5,311.4"  fill="#fff"/>
<path class="n" d="M512,298 L513,311" stroke-width="0.8" fill="none"/>
<path class="n" d="M515,298 L516,311" stroke-width="0.8" fill="none"/>
<path class="n" d="M518,298 L519,311" stroke-width="0.8" fill="none"/>
<path class="n" d="M521,298 L522,311" stroke-width="0.8" fill="none"/>
<path class="n" d="M524,298 L525,311" stroke-width="0.8" fill="none"/>
<path class="n" d="M693.3,309 V325"  fill="none"/>
<polygon class="p" points="688.6,294.4 694.8,294.4 694.8,307.6 688.6,307.6"  fill="#fff"/>
<path class="n" d="M688.6,297 L694.8,297.8" stroke-width="0.7" fill="none"/>
<path class="n" d="M688.6,299.5 L694.8,300.3" stroke-width="0.7" fill="none"/>
<path class="n" d="M688.6,302 L694.8,302.8" stroke-width="0.7" fill="none"/>
<path class="n" d="M688.6,304.5 L694.8,305.3" stroke-width="0.7" fill="none"/>
<path class="n" d="M688.6,307 L694.8,307.8" stroke-width="0.7" fill="none"/>
<ellipse class="p" cx="691.8" cy="289.8" rx="6" ry="4.8" stroke-width="1.2" fill="#fff"/>
<path class="n" d="M688,288 L691.8,285.5 L695.6,288 V292 L691.8,294 L688,292 Z" stroke-width="0.8" fill="none"/>
<polygon class="p" points="638,326.1 650.6,326 650.6,327 685.4,327 696,326.1 696,347.2 683.3,355.6 683.3,358.8 651.7,358.8 651.7,352.5 637.4,345 634.2,337 634.5,331"  fill="#fff"/>
<ellipse class="n" cx="639.5" cy="334" rx="3.8" ry="2"  fill="none"/>
<ellipse class="n" cx="692.8" cy="334" rx="3.8" ry="2"  fill="none"/>
<path class="n" d="M638,341 L651.7,350 H683.3 L696,342 M651.7,352.5 H683.3" stroke-width="0.8" fill="none"/>
<polygon class="p" points="650.6,321.5 652.5,320 667.5,320 668.5,317.7 674,317.5 684.4,321.9 685.4,345.6 651,345.6"  fill="#fff"/>
<path class="n" d="M667.5,320 L666.5,334 L651,345 M666.5,334 H685.4 M672.5,318 V334" stroke-width="0.8" fill="none"/>
<path class="n" d="M651,322 V345 M652.5,328 Q655,323 660,322.5 Q661,327 656.5,331 Z" stroke-width="1.1" fill="none"/>
<polygon class="p" points="662.2,345 672.8,345 672.8,358.8 662.2,358.8"  fill="#fff"/>
<path class="p" d="M646.7,361 Q646.7,357 651.7,357 Q656.7,357 656.7,361 V375 Q656.7,379 651.7,379 Q646.7,379 646.7,375 Z" stroke-width="1.1" fill="#fff"/>
<path class="n" d="M647,363 Q651.7,360 656.5,363" stroke-width="1" fill="none"/>
<ellipse class="n" cx="651.7" cy="376.5" rx="1.5" ry="1.3" stroke-width="0.9" fill="none"/>
<path class="p" d="M646.7,422 V386 Q646.7,382.6 651.7,382.6 Q656.7,382.6 656.7,386 V422" stroke-width="1.1" fill="#fff"/>
<ellipse class="n" cx="652.5" cy="385.5" rx="1.5" ry="1.3" stroke-width="0.9" fill="none"/>
<path class="n" d="M649,393 H652" stroke-width="1" fill="none"/>
<polygon class="p" points="645,421.5 658.5,421.5 658.5,428 645,428" stroke-width="1.1" fill="#fff"/>
<path class="p" d="M644,428 V444 Q644,451.5 651.7,451.5 Q659.4,451.5 659.4,444 V428 Z" stroke-width="1.1" fill="#fff"/>
<path class="n" d="M645,427 Q638,428 637.7,432 Q638,437 644,438" stroke-width="1" fill="none"/>
<polygon class="n" points="650.4,431 655.8,431 655.8,441 650.4,441" stroke-width="1" fill="none"/>
<path class="n" d="M645,424.5 H658.5 M647.5,428 V444 M657,428 V444" stroke-width="0.8" fill="none"/>
<path class="n" d="M633.7,407.7 L641,422"  fill="none"/>
<g transform="translate(621,387) rotate(-30)">
<path class="p" d="M-6,-13 V-19 Q-6,-23 0,-23 Q6,-23 6,-19 V-13 Z" stroke-width="1.2" fill="#fff"/>
<path class="n" d="M-5.5,-19.5 H5.5 M-6,-17 H6 M-6,-14.8 H6" stroke-width="0.9" fill="none"/>
<polygon class="p" points="-10,-12 -7,-14 7,-14 10,-12 10,3 -10,3" stroke-width="1.2" fill="#fff"/>
<path class="n" d="M-10,-8.5 H10" stroke-width="0.9" fill="none"/>
<ellipse cx="0" cy="-2" rx="7.5" ry="4.2" fill="none" stroke="#1e1e1e" stroke-width="1.1"/>
<polygon class="p" points="-7,3 7,3 7,14 -7,14" fill="#3a3a3a" stroke-width="1"/>
<path class="n" d="M-6,5.5 L6,6.5" stroke="#ddd" stroke-width="0.7" fill="none"/>
<path class="n" d="M-6,8 L6,9" stroke="#ddd" stroke-width="0.7" fill="none"/>
<path class="n" d="M-6,10.5 L6,11.5" stroke="#ddd" stroke-width="0.7" fill="none"/>
<polygon class="p" points="-3,14 3,14 3,20 -3,20" stroke-width="1.2" fill="#fff"/>
</g>
<g transform="translate(358,87) rotate(30)">
<polygon class="p" points="0,-2.3 9,-1.7 10.5,0 9,1.7 0,2.3" stroke-width="0.9" fill="#fff"/>
<path class="n" d="M2,-2.0999999999999996 L3,2.0999999999999996" stroke-width="0.8" fill="none"/>
<path class="n" d="M4,-2.0999999999999996 L5,2.0999999999999996" stroke-width="0.8" fill="none"/>
<path class="n" d="M6,-2.0999999999999996 L7,2.0999999999999996" stroke-width="0.8" fill="none"/>
<path class="n" d="M8,-2.0999999999999996 L9,2.0999999999999996" stroke-width="0.8" fill="none"/>
<ellipse cx="-0.5" cy="0" rx="3.2" ry="4.8" fill="#fff" stroke="#1e1e1e" stroke-width="1.1"/>
<ellipse cx="-1.3" cy="0" rx="1.6" ry="3.5999999999999996" fill="none" stroke="#1e1e1e" stroke-width="0.8"/>
</g>
<path class="n" d="M370.9,93.5 L378.3,98" stroke-width="0.9" fill="none"/>
<path d="M408.5,55 L391,61.5 Q385.3,64 385.3,72 V98" fill="none" stroke="#1e1e1e" stroke-width="3.2" stroke-linecap="butt" stroke-linejoin="round"/>
<path d="M408.5,55 L391,61.5 Q385.3,64 385.3,72 V98" fill="none" stroke="#fff" stroke-width="1.3" stroke-linecap="butt" stroke-linejoin="round"/>
<path class="n" d="M395,58.5 L398.5,61" stroke-width="1.4" fill="none"/>
<ellipse class="p" cx="414.5" cy="52.3" rx="5.5" ry="3.6" stroke-width="1.1" fill="#fff"/>
<ellipse class="n" cx="414.5" cy="52.3" rx="2.8" ry="1.7" stroke-width="0.9" fill="none"/>
<ellipse class="p" cx="385" cy="103" rx="3.4" ry="4.6" stroke-width="1.1" fill="#fff"/>
<ellipse class="n" cx="385" cy="103.5" rx="1.4" ry="2" stroke-width="0.9" fill="none"/>
<path class="n" d="M389,104.5 L416.5,119" stroke-width="0.9" fill="none"/>
<ellipse class="p" cx="424.2" cy="123.2" rx="3.4" ry="3.8" stroke-width="1.1" fill="#fff"/>
<ellipse class="p" cx="423.2" cy="173.6" rx="3.4" ry="3.4" stroke-width="1.1" fill="#fff"/>
<polygon class="p" points="410.4,131.4 435,124.2 435.5,168.4 411.4,175" stroke-width="1.1" fill="#fff"/>
<polygon class="p" points="410.4,131.4 414,130.4 414.8,174 411.4,175" stroke-width="0.9" fill="#fff"/>
<path class="n" d="M414,130.4 L416.5,129 V172.5" stroke-width="0.8" fill="none"/>
<polygon class="n" points="418,134 433,130 433,166 418.5,170" stroke-width="0.8" fill="none"/>
<path class="n" d="M421,137 V166 M424,136 V165 M427.5,135 V164 M430.5,134 V163" stroke-width="1.1" stroke-dasharray="2.2 1.2" fill="none"/>
<path class="n" d="M422.5,140 H428 M425,150 H431 M422.5,158 H429" stroke-width="1" fill="none"/>
<g transform="translate(366.5,140) rotate(30)">
<polygon class="p" points="0,-2.3 9,-1.7 10.5,0 9,1.7 0,2.3" stroke-width="0.9" fill="#fff"/>
<path class="n" d="M2,-2.0999999999999996 L3,2.0999999999999996" stroke-width="0.8" fill="none"/>
<path class="n" d="M4,-2.0999999999999996 L5,2.0999999999999996" stroke-width="0.8" fill="none"/>
<path class="n" d="M6,-2.0999999999999996 L7,2.0999999999999996" stroke-width="0.8" fill="none"/>
<path class="n" d="M8,-2.0999999999999996 L9,2.0999999999999996" stroke-width="0.8" fill="none"/>
<ellipse cx="-0.5" cy="0" rx="3.2" ry="4.8" fill="#fff" stroke="#1e1e1e" stroke-width="1.1"/>
<ellipse cx="-1.3" cy="0" rx="1.6" ry="3.5999999999999996" fill="none" stroke="#1e1e1e" stroke-width="0.8"/>
</g>
<path class="n" d="M379.5,148.6 L408,163.5" stroke-width="0.9" fill="none"/>
<path d="M120,169.5 Q113,165 108,166 Q104,168 104.5,176 Q107,184 126,195.5" fill="none" stroke="#1e1e1e" stroke-width="4.6" stroke-linecap="round" stroke-linejoin="round"/>
<path d="M120,169.5 Q113,165 108,166 Q104,168 104.5,176 Q107,184 126,195.5" fill="none" stroke="#fff" stroke-width="2.6" stroke-linecap="round" stroke-linejoin="round"/>
<polygon class="p" points="119.5,167.5 126,167.5 126,174 119.5,174"  fill="#fff"/>
<polygon class="p" points="119.5,167.5 121.5,165.5 128,165.5 126,167.5" stroke-width="0.9" fill="#fff"/>
<polygon class="p" points="126,167.5 128,165.5 128,172 126,174" stroke-width="0.9" fill="#fff"/>
<path d="M240,156 Q250,155 253.5,158.5 Q256.5,165 252,171 Q243,179 231.5,183.5" fill="none" stroke="#1e1e1e" stroke-width="4.6" stroke-linecap="round" stroke-linejoin="round"/>
<path d="M240,156 Q250,155 253.5,158.5 Q256.5,165 252,171 Q243,179 231.5,183.5" fill="none" stroke="#fff" stroke-width="2.6" stroke-linecap="round" stroke-linejoin="round"/>
<polygon class="p" points="232,155 239,155 239,161.5 232,161.5"  fill="#fff"/>
<polygon class="p" points="232,155 234,153.2 241,153.2 239,155" stroke-width="0.9" fill="#fff"/>
<polygon class="p" points="239,155 241,153.2 241,159.7 239,161.5" stroke-width="0.9" fill="#fff"/>
<path d="M277,176 Q286,175.5 289,179 Q292,185 287.5,191 Q279,199 268.5,204.5" fill="none" stroke="#1e1e1e" stroke-width="4.6" stroke-linecap="round" stroke-linejoin="round"/>
<path d="M277,176 Q286,175.5 289,179 Q292,185 287.5,191 Q279,199 268.5,204.5" fill="none" stroke="#fff" stroke-width="2.6" stroke-linecap="round" stroke-linejoin="round"/>
<polygon class="p" points="269,176.5 276,176.5 276,183 269,183"  fill="#fff"/>
<polygon class="p" points="269,176.5 271,174.7 278,174.7 276,176.5" stroke-width="0.9" fill="#fff"/>
<polygon class="p" points="276,176.5 278,174.7 278,181.2 276,183" stroke-width="0.9" fill="#fff"/>
<path d="M231.5,282.5 Q240,275.5 252,272 Q262,270 266,274.5 Q268,280 262,288" fill="none" stroke="#1e1e1e" stroke-width="4.6" stroke-linecap="round" stroke-linejoin="round"/>
<path d="M231.5,282.5 Q240,275.5 252,272 Q262,270 266,274.5 Q268,280 262,288" fill="none" stroke="#fff" stroke-width="2.6" stroke-linecap="round" stroke-linejoin="round"/>
<polygon class="p" points="252.5,287 259.5,287 259.5,293.5 252.5,293.5"  fill="#fff"/>
<polygon class="p" points="252.5,287 254.5,285.2 261.5,285.2 259.5,287" stroke-width="0.9" fill="#fff"/>
<polygon class="p" points="259.5,287 261.5,285.2 261.5,291.7 259.5,293.5" stroke-width="0.9" fill="#fff"/>
<path d="M162.6,186.2 L141,198 Q132,203 132,209.5 Q132.5,217 140,221.5 Q145,224.5 151,225.8 L190.6,236.8 L226,250.5 Q234,255.5 238,258.5 Q244,259 251,253 L258,249.5" fill="none" stroke="#1e1e1e" stroke-width="2.6" stroke-linecap="butt" stroke-linejoin="round"/>
<path d="M162.6,186.2 L141,198 Q132,203 132,209.5 Q132.5,217 140,221.5 Q145,224.5 151,225.8 L190.6,236.8 L226,250.5 Q234,255.5 238,258.5 Q244,259 251,253 L258,249.5" fill="none" stroke="#fff" stroke-width="1.0" stroke-linecap="butt" stroke-linejoin="round"/>
<path d="M162.6,186.2 L185,174 Q195,169.5 204,172 Q213.6,176 213.6,188 V229" fill="none" stroke="#1e1e1e" stroke-width="3.8" stroke-linecap="butt" stroke-linejoin="round"/>
<path d="M162.6,186.2 L185,174 Q195,169.5 204,172 Q213.6,176 213.6,188 V229" fill="none" stroke="#fff" stroke-width="2.0" stroke-linecap="butt" stroke-linejoin="round"/>
<path class="n" d="M162,184.5 L163.5,187.5" stroke-width="1.4" fill="none"/>
<path d="M213.6,235 V277" fill="none" stroke="#1e1e1e" stroke-width="3.8" stroke-linecap="butt" stroke-linejoin="round"/>
<path d="M213.6,235 V277" fill="none" stroke="#fff" stroke-width="2.0" stroke-linecap="butt" stroke-linejoin="round"/>
<path class="p" d="M210.8,277.5 H216.6 V298 Q213.7,301.5 210.8,298 Z"  fill="#fff"/>
<path class="n" d="M211,283 H216.5" stroke-width="0.8" fill="none"/>
<path class="n" d="M189.5,235.2 L191.8,238.4" stroke-width="1.2" fill="none"/>
<path d="M166,200 Q155,204.5 151.5,211 Q149.5,217 152,222 Q154.5,225.5 158.5,225 Q162,223.5 162,218 V208 Q162.5,203 166,200" fill="none" stroke="#1e1e1e" stroke-width="2.3" stroke-linecap="butt" stroke-linejoin="round"/>
<path d="M166,200 Q155,204.5 151.5,211 Q149.5,217 152,222 Q154.5,225.5 158.5,225 Q162,223.5 162,218 V208 Q162.5,203 166,200" fill="none" stroke="#fff" stroke-width="0.9" stroke-linecap="butt" stroke-linejoin="round"/>
<polygon class="p" points="165,196.2 171.5,194.4 173,199.6 166.5,201.5"  fill="#fff"/>
<path class="n" d="M167.5,195.5 L169,201" stroke-width="0.8" fill="none"/>
<path class="p" d="M172.4,194.6 L182.5,188.8 Q186.5,188.5 186.6,191.8 L176,199.4 Q173,199.8 172.4,194.6 Z"  fill="#fff"/>
<path class="n" d="M176,194.5 L183,190.5" stroke-width="0.7" fill="none"/>
<polygon class="p" points="257.5,248 262.5,245.8 264,250.8 259,253"  fill="#fff"/>
<polygon class="p" points="263,245 274.5,240 279,243 279,247.5 267,252.5 264,251"  fill="#fff"/>
<path class="n" d="M267,247 L276,243" stroke-width="0.7" fill="none"/>
<path d="M202.9,279.6 V262 Q202.5,252 193,249.5 Q188,248.5 183,250.5 L106,292 Q98,298 98,307 V322 Q98.5,330 106,334 L164.3,362.5 Q171,366 176,365 Q181,363 181.3,356 V336.4" fill="none" stroke="#1e1e1e" stroke-width="3.0" stroke-linecap="butt" stroke-linejoin="round"/>
<path d="M202.9,279.6 V262 Q202.5,252 193,249.5 Q188,248.5 183,250.5 L106,292 Q98,298 98,307 V322 Q98.5,330 106,334 L164.3,362.5 Q171,366 176,365 Q181,363 181.3,356 V336.4" fill="none" stroke="#fff" stroke-width="1.3" stroke-linecap="butt" stroke-linejoin="round"/>
<path d="M202.9,286.5 V305" fill="none" stroke="#1e1e1e" stroke-width="3.0" stroke-linecap="butt" stroke-linejoin="round"/>
<path d="M202.9,286.5 V305" fill="none" stroke="#fff" stroke-width="1.3" stroke-linecap="butt" stroke-linejoin="round"/>
<path class="p" d="M200.7,306 H205.2 V316 H206 V323 Q203.5,328.5 201,323 V316 H200.7 Z" stroke-width="0.9" fill="#fff"/>
<path class="n" d="M201,311 H205 M201.5,319 H205.5" stroke-width="0.7" fill="none"/>
<ellipse class="p" cx="153.6" cy="289.3" rx="4.2" ry="4.2" stroke-width="1.1" fill="#fff"/>
<ellipse class="n" cx="153.6" cy="289.3" rx="1.8" ry="1.8" stroke-width="0.9" fill="none"/>
<polygon class="p" points="152.3,293.5 154.9,293.5 155.3,301 151.9,301" stroke-width="0.8" fill="#fff"/>
<polygon class="p" points="151.4,301 156.8,301 156.8,309.6 151.4,309.6"  fill="#fff"/>
<path d="M153.6,309.6 V348 Q154,360 166,364 Q171,366.5 175,365.3" fill="none" stroke="#1e1e1e" stroke-width="2.4" stroke-linecap="butt" stroke-linejoin="round"/>
<path d="M153.6,309.6 V348 Q154,360 166,364 Q171,366.5 175,365.3" fill="none" stroke="#fff" stroke-width="0.9" stroke-linecap="butt" stroke-linejoin="round"/>
<polygon class="p" points="173.9,320 182,320 184.6,318 184.6,334.5 182,336.4 173.9,336.4"  fill="#fff"/>
<polygon class="p" points="173.9,320 176.5,318 184.6,318 182,320" stroke-width="0.8" fill="#fff"/>
<path class="n" d="M182,320 V336.4" stroke-width="0.8" fill="none"/>
<path d="M284,459.6 Q284.5,485 296,499 Q310,512 328,518 L362.3,517.3" fill="none" stroke="#1e1e1e" stroke-width="2.2" stroke-linecap="butt" stroke-linejoin="round"/>
<path d="M284,459.6 Q284.5,485 296,499 Q310,512 328,518 L362.3,517.3" fill="none" stroke="#fff" stroke-width="0.8" stroke-linecap="butt" stroke-linejoin="round"/>
<path d="M302,481 Q303,496 316,504.5 Q330,512 345,512.3 L363.9,512.3" fill="none" stroke="#1e1e1e" stroke-width="2.2" stroke-linecap="butt" stroke-linejoin="round"/>
<path d="M302,481 Q303,496 316,504.5 Q330,512 345,512.3 L363.9,512.3" fill="none" stroke="#fff" stroke-width="0.8" stroke-linecap="butt" stroke-linejoin="round"/>
<path d="M319.4,474.4 Q319.5,492 330,502 Q340,508 350,508.5 L362.3,509" fill="none" stroke="#1e1e1e" stroke-width="2.2" stroke-linecap="butt" stroke-linejoin="round"/>
<path d="M319.4,474.4 Q319.5,492 330,502 Q340,508 350,508.5 L362.3,509" fill="none" stroke="#fff" stroke-width="0.8" stroke-linecap="butt" stroke-linejoin="round"/>
<path class="p" d="M280.7,458.8 V436 Q280.7,432.4 284,432.4 Q287.3,432.4 287.3,436 V458.8 Z"  fill="#fff"/>
<path class="n" d="M280.7,453.5 H287.3 M281.5,436 H286.5" stroke-width="0.8" fill="none"/>
<path class="p" d="M316.1,474.4 V451.5 Q316.1,448 319.4,448 Q322.7,448 322.7,451.5 V474.4 Z"  fill="#fff"/>
<path class="n" d="M316.1,469.5 H322.7 M317,451.5 H322" stroke-width="0.8" fill="none"/>
<path class="p" d="M301.2,481 V473 H300 V470 L302,466.2 L304,470 V473 H303 V481 Z" stroke-width="0.9" fill="#fff"/>
<path class="n" d="M300.5,476 H304 M300.5,478.5 H304" stroke-width="0.7" fill="none"/>
<polygon class="p" points="358.6,500.8 374.4,492.2 392.2,502.1 392.5,511.4 377.7,519.9 358.6,509.4" stroke-width="1.2" fill="#fff"/>
<path class="n" d="M358.6,500.8 L376.5,510.5 L392.2,502.1 M376.5,510.5 L377.7,519.9" stroke-width="1" fill="none"/>
<path class="n" d="M366.5,500.2 L383,494.9 M369.8,504 L385.6,499.5 M373,507 L389,501 M376,497.5 L382,501" stroke-width="1.1" fill="none"/>
<path class="n" d="M360,505 L376,514 M361,508 L372,514" stroke-width="1.3" fill="none"/>
<path d="M360.5,513 L308.6,554 L262.6,584.7" fill="none" stroke="#1e1e1e" stroke-width="2.2" stroke-linecap="butt" stroke-linejoin="round"/>
<path d="M360.5,513 L308.6,554 L262.6,584.7" fill="none" stroke="#fff" stroke-width="0.8" stroke-linecap="butt" stroke-linejoin="round"/>
<path class="n" d="M307.5,553.8 L310,555.8" stroke-width="1.2" fill="none"/>
<polygon class="p" points="243,585.5 248,580 262.6,584 262,590.5 258,592 246,590"  fill="#fff"/>
<path class="n" d="M248,580 L246,590" stroke-width="0.8" fill="none"/>
<path class="n" d="M354.8,320.3 V345"  fill="none"/>
<polygon class="p" points="352.7,310.6 357.5,310.6 357.5,317.7 352.7,317.7"  fill="#fff"/>
<path class="n" d="M352.7,313 H357.5 M352.7,315.5 H357.5" stroke-width="0.7" fill="none"/>
<path class="p" d="M350.6,310.6 Q350.6,304.5 354.8,304.5 Q359,304.5 359,310.6 Z"  fill="#fff"/>
<path class="n" d="M354.8,305 V308" stroke-width="0.8" fill="none"/>
<path class="p" d="M348.5,337.5 Q350,334.5 355.5,335 L368.3,341.5 Q367.5,344 359,348 Q351,350 349,347 Z"  fill="#fff"/>
<ellipse class="n" cx="354.8" cy="345.3" rx="2.4" ry="1.5" stroke-width="1.1" fill="none"/>
<path class="n" d="M348.5,337 V343" stroke-width="0.8" fill="none"/>
<path class="n" d="M424.4,352 V390"  fill="none"/>
<polygon class="p" points="421.5,335.3 426.8,335.3 426.8,350 421.5,350"  fill="#fff"/>
<path class="n" d="M421.5,338 L426.8,338.8" stroke-width="0.7" fill="none"/>
<path class="n" d="M421.5,340.5 L426.8,341.3" stroke-width="0.7" fill="none"/>
<path class="n" d="M421.5,343 L426.8,343.8" stroke-width="0.7" fill="none"/>
<path class="n" d="M421.5,345.5 L426.8,346.3" stroke-width="0.7" fill="none"/>
<path class="n" d="M421.5,348 L426.8,348.8" stroke-width="0.7" fill="none"/>
<path class="p" d="M419.1,335.3 Q419.1,328.8 424,328.8 Q428.9,328.8 428.9,335.3 Z"  fill="#fff"/>
<path class="n" d="M424,329.5 V333" stroke-width="0.8" fill="none"/>
<path d="M431.5,425 V450.3" fill="none" stroke="#1e1e1e" stroke-width="5.2" stroke-linecap="butt" stroke-linejoin="round"/>
<path d="M431.5,425 V450.3" fill="none" stroke="#fff" stroke-width="3.2" stroke-linecap="butt" stroke-linejoin="round"/>
<path d="M431.5,453 V471.5" fill="none" stroke="#1e1e1e" stroke-width="5.2" stroke-linecap="butt" stroke-linejoin="round"/>
<path d="M431.5,453 V471.5" fill="none" stroke="#fff" stroke-width="3.2" stroke-linecap="butt" stroke-linejoin="round"/>
<path class="n" d="M429,471.5 L426,479.6 M434,471.5 L433,479.6" stroke-width="0.9" fill="none"/>
<polygon class="p" points="423,479.6 438,479.6 438,496.9 423,496.9"  fill="#fff"/>
<path class="n" d="M426.5,483 V494 M434.5,483 V494 M423,481.5 H438" stroke-width="0.8" fill="none"/>
<path class="n" d="M479.5,473.3 V504.2"  fill="none"/>
<polygon class="p" points="462,511 465,507 471,505.5 474,507 474,523 468,524.5 463,521" stroke-width="1.2" fill="#fff"/>
<path class="n" d="M463,513.5 L471,511.5 M463.5,518.5 L472,517.5 M466.5,507 V523.5" stroke-width="0.9" fill="none"/>
<polygon class="p" points="478,509 488,514.5 491.5,518 491.5,526 485,528.5 478,527" stroke-width="1.1" fill="#fff"/>
<ellipse cx="477" cy="516.5" rx="6.2" ry="10.8" transform="rotate(-25 477 516.5)" fill="#fff" stroke="#111" stroke-width="1.8"/>
<ellipse cx="478.5" cy="517.5" rx="3.5" ry="7.5" transform="rotate(-25 478.5 517.5)" fill="none" stroke="#444" stroke-width="0.9"/>
<ellipse class="n" cx="487" cy="523" rx="2.6" ry="2.9" fill="#1a1a1a" stroke-width="1"/>
<ellipse class="n" cx="487.4" cy="522.6" rx="1" ry="1.2" fill="#fff" stroke="none"/>
<polygon class="p" points="490,519.5 496,522.5 498.8,524 498.8,528 493.5,527.5 490,526" stroke-width="1.1" fill="#fff"/>
<rect x="485.5" y="346.5" width="27" height="14" fill="#d6e6f7" stroke="#3f7fc0" stroke-width="1"/>
<rect x="549.5" y="380.5" width="28" height="14" fill="#d6e6f7" stroke="#3f7fc0" stroke-width="1"/>
<g style="filter:grayscale(1)"><g id="labels">
<text class="t" x="385.0" y="25.4" textLength="27.1" lengthAdjust="spacingAndGlyphs">180</text>
<text class="t" x="346.2" y="44.5" textLength="28.3" lengthAdjust="spacingAndGlyphs">190</text>
<text class="t" x="412.6" y="83.5" textLength="27.1" lengthAdjust="spacingAndGlyphs">170</text>
<text class="t" x="353.6" y="192.0" textLength="27.7" lengthAdjust="spacingAndGlyphs">190</text>
<text class="t" x="43.6" y="179.7" textLength="28.2" lengthAdjust="spacingAndGlyphs">160</text>
<text class="t" x="70.2" y="214.8" textLength="27.3" lengthAdjust="spacingAndGlyphs">140</text>
<text class="t" x="222.4" y="115.2" textLength="26.7" lengthAdjust="spacingAndGlyphs">160</text>
<text class="t" x="259.6" y="137.4" textLength="27.0" lengthAdjust="spacingAndGlyphs">160</text>
<text class="t" x="466.4" y="158.8" textLength="30.2" lengthAdjust="spacingAndGlyphs">060</text>
<text class="t" x="356.8" y="248.9" textLength="29.2" lengthAdjust="spacingAndGlyphs">050</text>
<text class="t" x="706.0" y="32.6" textLength="30.0" lengthAdjust="spacingAndGlyphs">030</text>
<text class="t" x="714.2" y="78.8" textLength="28.9" lengthAdjust="spacingAndGlyphs">040</text>
<text class="t" x="589.8" y="110.8" textLength="29.7" lengthAdjust="spacingAndGlyphs">020</text>
<text class="t" x="793.2" y="185.3" textLength="28.4" lengthAdjust="spacingAndGlyphs">010</text>
<text class="t" x="34.6" y="317.1" textLength="26.8" lengthAdjust="spacingAndGlyphs">150</text>
<text class="t" x="246.4" y="340.1" textLength="26.8" lengthAdjust="spacingAndGlyphs">160</text>
<text class="t" x="290.8" y="313.8" textLength="27.8" lengthAdjust="spacingAndGlyphs">100</text>
<text class="t" x="290.8" y="345.7" textLength="29.1" lengthAdjust="spacingAndGlyphs">090</text>
<text class="t" x="447.2" y="338.9" textLength="28.0" lengthAdjust="spacingAndGlyphs">110</text>
<text class="t" x="481.4" y="401.5" textLength="29.1" lengthAdjust="spacingAndGlyphs">080</text>
<text class="t" x="465.8" y="468.9" textLength="25.7" lengthAdjust="spacingAndGlyphs">130</text>
<text class="t" x="352.2" y="553.1" textLength="26.8" lengthAdjust="spacingAndGlyphs">120</text>
<text class="t" x="731.8" y="295.9" textLength="29.2" lengthAdjust="spacingAndGlyphs">060</text>
<text class="t" x="731.8" y="341.7" textLength="29.2" lengthAdjust="spacingAndGlyphs">050</text>
<text class="t" x="485.0" y="358.9" textLength="27.5" lengthAdjust="spacingAndGlyphs" style="fill:#0d1a33;font-size:17px;stroke:none">070</text>
<text class="t" x="549.5" y="393.4" textLength="27.5" lengthAdjust="spacingAndGlyphs" style="fill:#0d1a33;font-size:17px;stroke:none">070</text>
<text class="t" x="764.5" y="594.2" textLength="65" lengthAdjust="spacingAndGlyphs" style="font-size:9.4px;stroke:none;fill:#222">E7158-006-10</text>
</g>
<g id="leaders">
<path class="l" d="M398.5 29V59"/>
<path class="d" d="M359.5 49V82"/>
<path class="l" d="M425.5 86.7V119"/>
<path class="l" d="M365.5 144.5V177"/>
<path class="l" d="M74 173.5H118"/>
<path class="d" d="M101 209.5H132" style="stroke-dasharray:2 0.6;stroke:#222"/>
<path class="l" d="M236.5 119V153.7"/>
<path class="l" d="M273.5 140.6V175"/>
<path class="d" d="M498.3 152.5H529.5"/>
<path class="l" d="M388.6 243.5H421.2"/>
<path class="l" d="M671.8 26.5H701.8"/>
<path class="l" d="M678.2 73.5H710.4"/>
<path class="l" d="M623 104.5H654"/>
<path class="l" d="M757.5 180.5H789"/>
<path class="l" d="M64.3 312.5H97.5"/>
<path class="l" d="M259.5 294V327"/>
<path class="l" d="M321.5 307.5H351"/>
<path class="l" d="M322.2 340.5H349"/>
<path class="l" d="M430.2 332.5H444.7"/>
<path class="l" d="M449.2 395.5H478"/>
<path class="l" d="M479.5 473.3V503.8"/>
<path class="d" d="M319 548.5H351"/>
<path class="d" d="M698 291.5H729.3"/>
<path class="l" d="M698 336.5H727.7"/>
<path class="d" d="M498.5 313.8V345.6"/>
<path class="l" d="M581.5 387.5H612"/>
</g>
</g>
</svg>
</body></html>
